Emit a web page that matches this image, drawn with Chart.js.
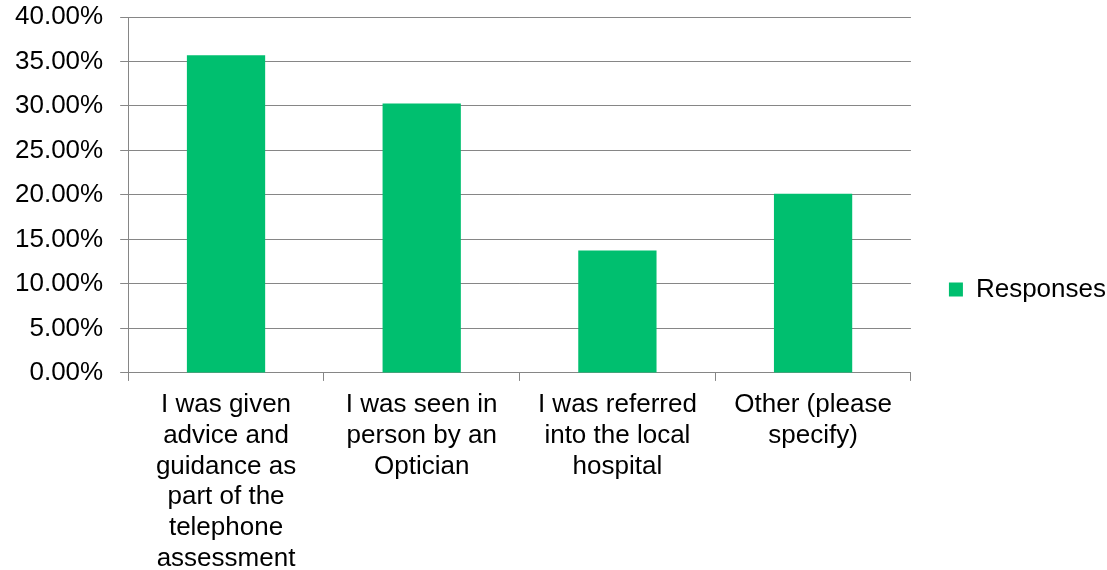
<!DOCTYPE html>
<html>
<head>
<meta charset="utf-8">
<script src="https://cdn.jsdelivr.net/npm/chart.js@4.4.1/dist/chart.umd.min.js"></script>
<style>
  body { margin: 0; background: #fff; }
  #wrap { width: 1107px; height: 570px; }
</style>
</head>
<body>
<div id="wrap"><canvas id="myChart" width="1107" height="570"></canvas></div>
<script>
let ctx = document.getElementById('myChart').getContext('2d');

// categories (split into lines like the original)
let labels = [
    ['I was given', 'advice and', 'guidance as', 'part of the', 'telephone', 'assessment'],
    ['I was seen in', 'person by an', 'Optician'],
    ['I was referred', 'into the local', 'hospital'],
    ['Other (please', 'specify)']
];
let values = [35.7, 30.27, 13.75, 20.15];
let yTicks = [0, 5, 10, 15, 20, 25, 30, 35, 40];

let green = '#00BF6F';
let gridGrey = '#868686';

Chart.defaults.font.family = '"Liberation Sans", Arial, sans-serif';
Chart.defaults.color = '#000';

let data = {
    labels: labels,
    datasets: [{
        label: 'Responses',
        data: values,
        backgroundColor: green,
        borderWidth: 0,
        barPercentage: 0.4,
        categoryPercentage: 1.0
    }]
};

let chart = new Chart(ctx, {
    type: 'bar',
    data: data,
    options: {
        responsive: false,
        animation: false,
        layout: {
            padding: { top: -15, left: -2, right: -9, bottom: -24 }
        },
        plugins: {
            tooltip: { enabled: false },
            legend: {
                position: 'right',
                labels: {
                    boxWidth: 14,
                    boxHeight: 14,
                    padding: 38,
                    font: { size: 26 }
                }
            }
        },
        scales: {
            x: {
                offset: true,
                afterFit: function(scale) {
                    scale.height += 11;
                },
                grid: {
                    offset: true,
                    drawOnChartArea: false,
                    drawTicks: true,
                    tickLength: 8,
                    color: gridGrey
                },
                border: { color: gridGrey },
                ticks: {
                    padding: 9,
                    maxRotation: 0,
                    autoSkip: false,
                    font: { size: 26, lineHeight: 1.18 }
                }
            },
            y: {
                min: 0,
                max: 40,
                afterBuildTicks: function(axis) {
                    axis.ticks = yTicks.map(v => ({ value: v }));
                },
                afterFit: function(scale) {
                    scale.paddingTop = 17;
                },
                grid: {
                    color: gridGrey,
                    tickLength: 8
                },
                border: { color: gridGrey },
                ticks: {
                    padding: 17,
                    font: { size: 26, lineHeight: 1.18 },
                    callback: function(value) {
                        return value.toFixed(2) + '%';
                    }
                }
            }
        }
    }
});
</script>
</body>
</html>
